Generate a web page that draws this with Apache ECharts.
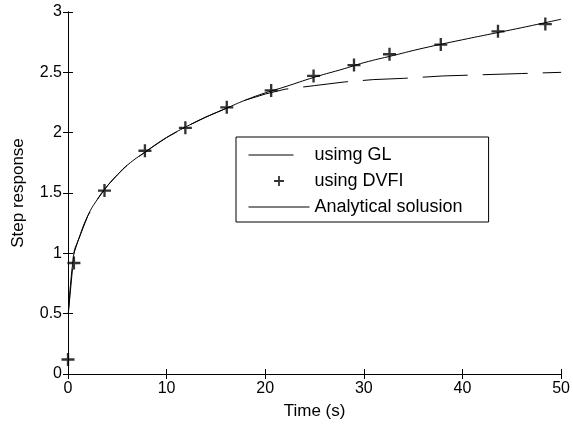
<!DOCTYPE html>
<html>
<head>
<meta charset="utf-8">
<script src="https://cdn.jsdelivr.net/npm/echarts@6/dist/echarts.min.js"></script>
<style>html,body{margin:0;padding:0;background:#fff}#c{width:573px;height:425px}</style>
</head>
<body>
<div id="c"></div>
<script>
var xTicks = [0, 10, 20, 30, 40, 50];
var yTicks = [0, 0.5, 1, 1.5, 2, 2.5, 3];

var analyticalT = [0.03, 0.6, 1, 2, 3, 4, 5, 6, 8, 10, 12, 14, 16, 18, 20, 22, 25, 28, 30, 33, 36, 40, 43, 46, 50];
var analyticalY = [0.5, 1.0, 1.10, 1.31, 1.45, 1.56, 1.65, 1.73, 1.85, 1.96, 2.05, 2.13, 2.20, 2.27, 2.33, 2.38, 2.46, 2.53, 2.58, 2.64, 2.70, 2.77, 2.82, 2.87, 2.94];

var glT = [0.03, 0.6, 1, 2, 3, 4, 5, 6, 8, 10, 12, 14, 16, 18, 20, 22, 25, 28, 31, 34, 38, 42, 46, 50];
var glY = [0.5, 1.0, 1.10, 1.31, 1.45, 1.56, 1.65, 1.73, 1.85, 1.96, 2.05, 2.13, 2.20, 2.27, 2.32, 2.36, 2.39, 2.42, 2.44, 2.45, 2.47, 2.48, 2.49, 2.50];

var dvfiT = [0, 0.6, 3.7, 7.8, 11.9, 16.1, 20.6, 24.9, 29.0, 32.6, 37.8, 43.6, 48.4];
var dvfiY = [0.12, 0.92, 1.52, 1.85, 2.04, 2.21, 2.35, 2.47, 2.56, 2.65, 2.73, 2.84, 2.90];

function zip(a, b) { return a.map(function (v, i) { return [v, b[i]]; }); }

var plus = 'path://M4.1,0H5.9V4.1H10V5.9H5.9V10H4.1V5.9H0V4.1H4.1Z';
var font = 'Liberation Sans, Arial, sans-serif';

var chart = echarts.init(document.getElementById('c'));
var axisCommon = {
  axisLine: { show: true, lineStyle: { color: '#000', width: 1 } },
  axisTick: { show: true, inside: true, length: 5, lineStyle: { color: '#000' } },
  splitLine: { show: false }
};
chart.setOption({
  animation: false,
  backgroundColor: '#fff',
  grid: { left: 68, top: 12, right: 10, bottom: 51 },
  legend: {
    orient: 'vertical',
    left: 236, top: 137,
    backgroundColor: '#fff',
    borderColor: '#000', borderWidth: 1,
    padding: [9, 26, 6, 12],
    itemWidth: 61, itemHeight: 10, itemGap: 8,
    textStyle: { fontFamily: font, fontSize: 18, color: '#000' },
    data: [
      { name: 'usimg GL', itemStyle: { opacity: 0 }, lineStyle: { type: [45, 100], width: 1 } },
      { name: 'using DVFI', icon: plus },
      { name: 'Analytical solusion', itemStyle: { opacity: 0 }, lineStyle: { width: 1 } }
    ]
  },
  xAxis: [
    Object.assign({
      type: 'value', min: 0, max: 50, interval: 10, position: 'bottom',
      name: 'Time (s)', nameLocation: 'middle', nameGap: 29,
      nameTextStyle: { fontFamily: font, fontSize: 17, color: '#000' },
      axisLabel: { fontFamily: font, fontSize: 16, color: '#000', margin: 7 }
    }, axisCommon),
    Object.assign({
      type: 'value', min: 0, max: 50, interval: 10, position: 'top',
      axisLabel: { show: false }
    }, axisCommon)
  ],
  yAxis: [
    Object.assign({
      type: 'value', min: 0, max: 3, interval: 0.5, position: 'left',
      name: 'Step response', nameLocation: 'middle', nameGap: 41,
      nameTextStyle: { fontFamily: font, fontSize: 17, color: '#000' },
      axisLabel: { fontFamily: font, fontSize: 16, color: '#000', margin: 6 }
    }, axisCommon),
    Object.assign({
      type: 'value', min: 0, max: 3, interval: 0.5, position: 'right',
      axisLabel: { show: false }
    }, axisCommon)
  ],
  series: [
    {
      name: 'usimg GL', type: 'line', data: zip(glT, glY),
      symbol: 'none', smooth: false,
      lineStyle: { color: '#000', width: 1, type: [45, 15] },
      itemStyle: { color: '#000' }
    },
    {
      name: 'using DVFI', type: 'scatter', data: zip(dvfiT, dvfiY),
      symbol: plus, symbolSize: 13,
      itemStyle: { color: '#000' }
    },
    {
      name: 'Analytical solusion', type: 'line', data: zip(analyticalT, analyticalY),
      symbol: 'none', smooth: true,
      lineStyle: { color: '#000', width: 1 },
      itemStyle: { color: '#000' }
    }
  ]
});
</script>
</body>
</html>
